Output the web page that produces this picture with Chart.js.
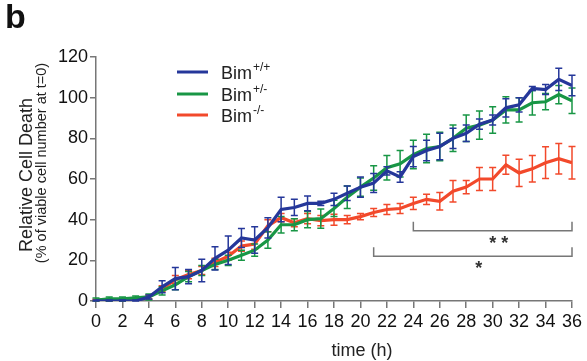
<!DOCTYPE html>
<html>
<head>
<meta charset="utf-8">
<script src="https://cdn.jsdelivr.net/npm/chart.js@4.4.1/dist/chart.umd.min.js"></script>
<style>
  body { margin: 0; background: #fff; }
  canvas { display: block; }
</style>
</head>
<body>
<canvas id="myChart" width="587" height="361"></canvas>
<script>
// hours sampled every 1 h, 0..36
const hours = Array.from({ length: 37 }, (_, i) => i);

// Bim+/+
const bimWT = [0, 0, 0, 0, 2, 7, 11, 12, 15, 21, 25, 31, 30, 36, 45, 46, 48, 48, 50, 53, 56, 58, 64, 61,
    71, 74, 76, 80, 82.5, 87, 89, 95, 96.5, 104.5, 104, 109, 106];
const bimWTErr = [0.5, 0.5, 0.5, 0.5, 1, 3, 5.5, 3.5, 5.5, 5.7, 7, 4.7, 6.5, 5, 6, 4, 3.6, 1, 3, 3.6, 5, 4.7, 2, 2.6,
    5, 5, 6.5, 5, 4, 2.5, 2.5, 4.5, 3.5, 1, 2.5, 5.5, 5];

// Bim+/-
const bimHet = [0.5, 1, 1, 1.5, 2, 5, 8, 12, 15, 18, 20, 22.5, 25, 30, 37.5, 37.5, 40, 40.5, 45.5, 51, 56, 60.5, 65.5, 67.5,
    72, 75, 76, 80, 85, 86.5, 89, 94, 94, 97.5, 98, 101.5, 98.5];
const bimHetErr = [1, 1, 1, 1, 1.5, 2, 2.5, 2.5, 2.5, 2.5, 2.5, 2.5, 3, 4, 4, 3, 4, 4.7, 4, 5.5, 4.5, 6, 6, 6.5,
    7, 7, 7, 6.5, 6.5, 7, 6.5, 6.5, 6, 6, 4, 4.5, 6.3];

// Bim-/-
const bimKO = [0.3, 0.5, 0.5, 1, 2, 6, 10.5, 13, 15, 19, 22, 27, 28, 37, 41, 38.5, 40.5, 39.5, 40, 40, 41.5, 43.5, 45, 45.5,
    48, 50, 49, 54, 56, 60, 60, 67, 63, 65, 68, 70, 68];
const bimKOErr = [0.5, 0.5, 0.5, 0.5, 1, 1.5, 2, 2, 2, 2, 2, 2.5, 2.5, 3, 2, 2, 2.5, 2.5, 2.7, 2, 1.5, 2, 2.5, 2.5,
    3, 2.5, 4.3, 5.3, 3.3, 5.6, 5.7, 4.7, 6.7, 6.5, 7.8, 7.5, 8];

const seriesNames = ['+/+', '+/-', '-/-'];
const seriesColors = ['#25379a', '#189645', '#f2492b'];

// significance brackets (hours / y value)
const sigBrackets = [
    { from: 24, to: 36, y: 34.5, label: '* *' },
    { from: 21, to: 36, y: 22, label: '*' }
];

const FONT = '"Liberation Sans", Arial, sans-serif';

function toPoints(vals) {
    return vals.map((v, i) => ({ x: hours[i], y: v }));
}

const allErr = [bimWTErr, bimHetErr, bimKOErr];

// draws the error bars of each series just after its line
const errorBars = {
    id: 'errorBars',
    afterDatasetDraw(chart, args) {
        const ctx = chart.ctx;
        const xs = chart.scales.x, ys = chart.scales.y;
        const ds = chart.data.datasets[args.index];
        const err = allErr[args.index];
        ctx.save();
        ctx.strokeStyle = ds.borderColor;
        ctx.lineWidth = 1.5;
        ds.data.forEach((p, i) => {
            const x = xs.getPixelForValue(p.x);
            const top = ys.getPixelForValue(p.y + err[i]);
            const bot = ys.getPixelForValue(Math.max(0, p.y - err[i]));
            ctx.beginPath();
            ctx.moveTo(x, top); ctx.lineTo(x, bot);
            ctx.moveTo(x - 3.5, top); ctx.lineTo(x + 3.5, top);
            ctx.moveTo(x - 3.5, bot); ctx.lineTo(x + 3.5, bot);
            ctx.stroke();
        });
        ctx.restore();
    }
};

// titles, legend and brackets
const extras = {
    id: 'extras',
    afterDraw(chart) {
        const ctx = chart.ctx;
        const xs = chart.scales.x, ys = chart.scales.y;
        ctx.save();
        ctx.fillStyle = '#111';

        ctx.font = 'bold 34px ' + FONT;
        ctx.textAlign = 'left';
        ctx.textBaseline = 'alphabetic';
        ctx.fillText('b', 5, 28);

        // y title
        ctx.save();
        ctx.translate(32, 175);
        ctx.rotate(-Math.PI / 2);
        ctx.textAlign = 'center';
        ctx.font = '18px ' + FONT;
        ctx.fillStyle = '#222';
        ctx.fillText('Relative Cell Death', 0, 0);
        ctx.font = '14.5px ' + FONT;
        ctx.fillText('(% of viable cell number at t=0)', 12, 14);
        ctx.restore();

        // x title
        ctx.textAlign = 'center';
        ctx.font = '18px ' + FONT;
        ctx.fillStyle = '#222';
        ctx.fillText('time (h)', 362, 356);

        // legend
        const legY = [72, 94, 115];
        seriesNames.forEach((sup, i) => {
            ctx.strokeStyle = seriesColors[i];
            ctx.lineWidth = 3;
            ctx.beginPath();
            ctx.moveTo(177, legY[i]); ctx.lineTo(208, legY[i]);
            ctx.stroke();
            ctx.textAlign = 'left';
            ctx.font = '18px ' + FONT;
            ctx.fillText('Bim', 221, legY[i] + 7);
            const w = ctx.measureText('Bim').width;
            ctx.font = '12px ' + FONT;
            ctx.fillText(sup, 221 + w + 1, legY[i] - 1);
        });

        // brackets
        ctx.strokeStyle = '#777';
        ctx.lineWidth = 1.5;
        sigBrackets.forEach(b => {
            const x1 = xs.getPixelForValue(b.from), x2 = xs.getPixelForValue(b.to);
            const y = ys.getPixelForValue(b.y);
            ctx.beginPath();
            ctx.moveTo(x1, y - 9); ctx.lineTo(x1, y); ctx.lineTo(x2, y); ctx.lineTo(x2, y - 9);
            ctx.stroke();
            ctx.textAlign = 'center';
            ctx.font = 'bold 18px ' + FONT;
            ctx.fillStyle = '#333';
            ctx.fillText(b.label, (x1 + x2) / 2 + 6, y + 18);
        });
        ctx.restore();
    }
};

const ctx = document.getElementById('myChart').getContext('2d');
const myChart = new Chart(ctx, {
    type: 'line',
    data: {
        datasets: [bimWT, bimHet, bimKO].map((vals, i) => ({
            label: 'Bim' + seriesNames[i],
            data: toPoints(vals),
            borderColor: seriesColors[i],
            borderWidth: 3.2,
            pointRadius: 0,
            tension: 0,
            fill: false
        }))
    },
    options: {
        responsive: false,
        animation: false,
        devicePixelRatio: 1,
        layout: { padding: { top: 57, right: 15, left: 0, bottom: 0 } },
        plugins: { legend: { display: false }, tooltip: { enabled: false } },
        scales: {
            x: {
                type: 'linear',
                min: 0, max: 36,
                afterFit: s => { s.height = 60; },
                border: { display: true, color: '#777', width: 1.5 },
                grid: { drawOnChartArea: false, drawTicks: true, tickLength: 7, color: '#777', lineWidth: 1.5 },
                ticks: { stepSize: 2, autoSkip: false, maxRotation: 0, padding: 3, color: '#111', font: { family: FONT, size: 18 } }
            },
            y: {
                min: 0, max: 120,
                afterFit: s => { s.width = 96; },
                border: { display: true, color: '#777', width: 1.5 },
                grid: { drawOnChartArea: false, drawTicks: true, tickLength: 6, color: '#777', lineWidth: 1.5 },
                ticks: { stepSize: 20, padding: 2, color: '#111', font: { family: FONT, size: 18 } }
            }
        }
    },
    plugins: [errorBars, extras]
});
</script>
</body>
</html>
